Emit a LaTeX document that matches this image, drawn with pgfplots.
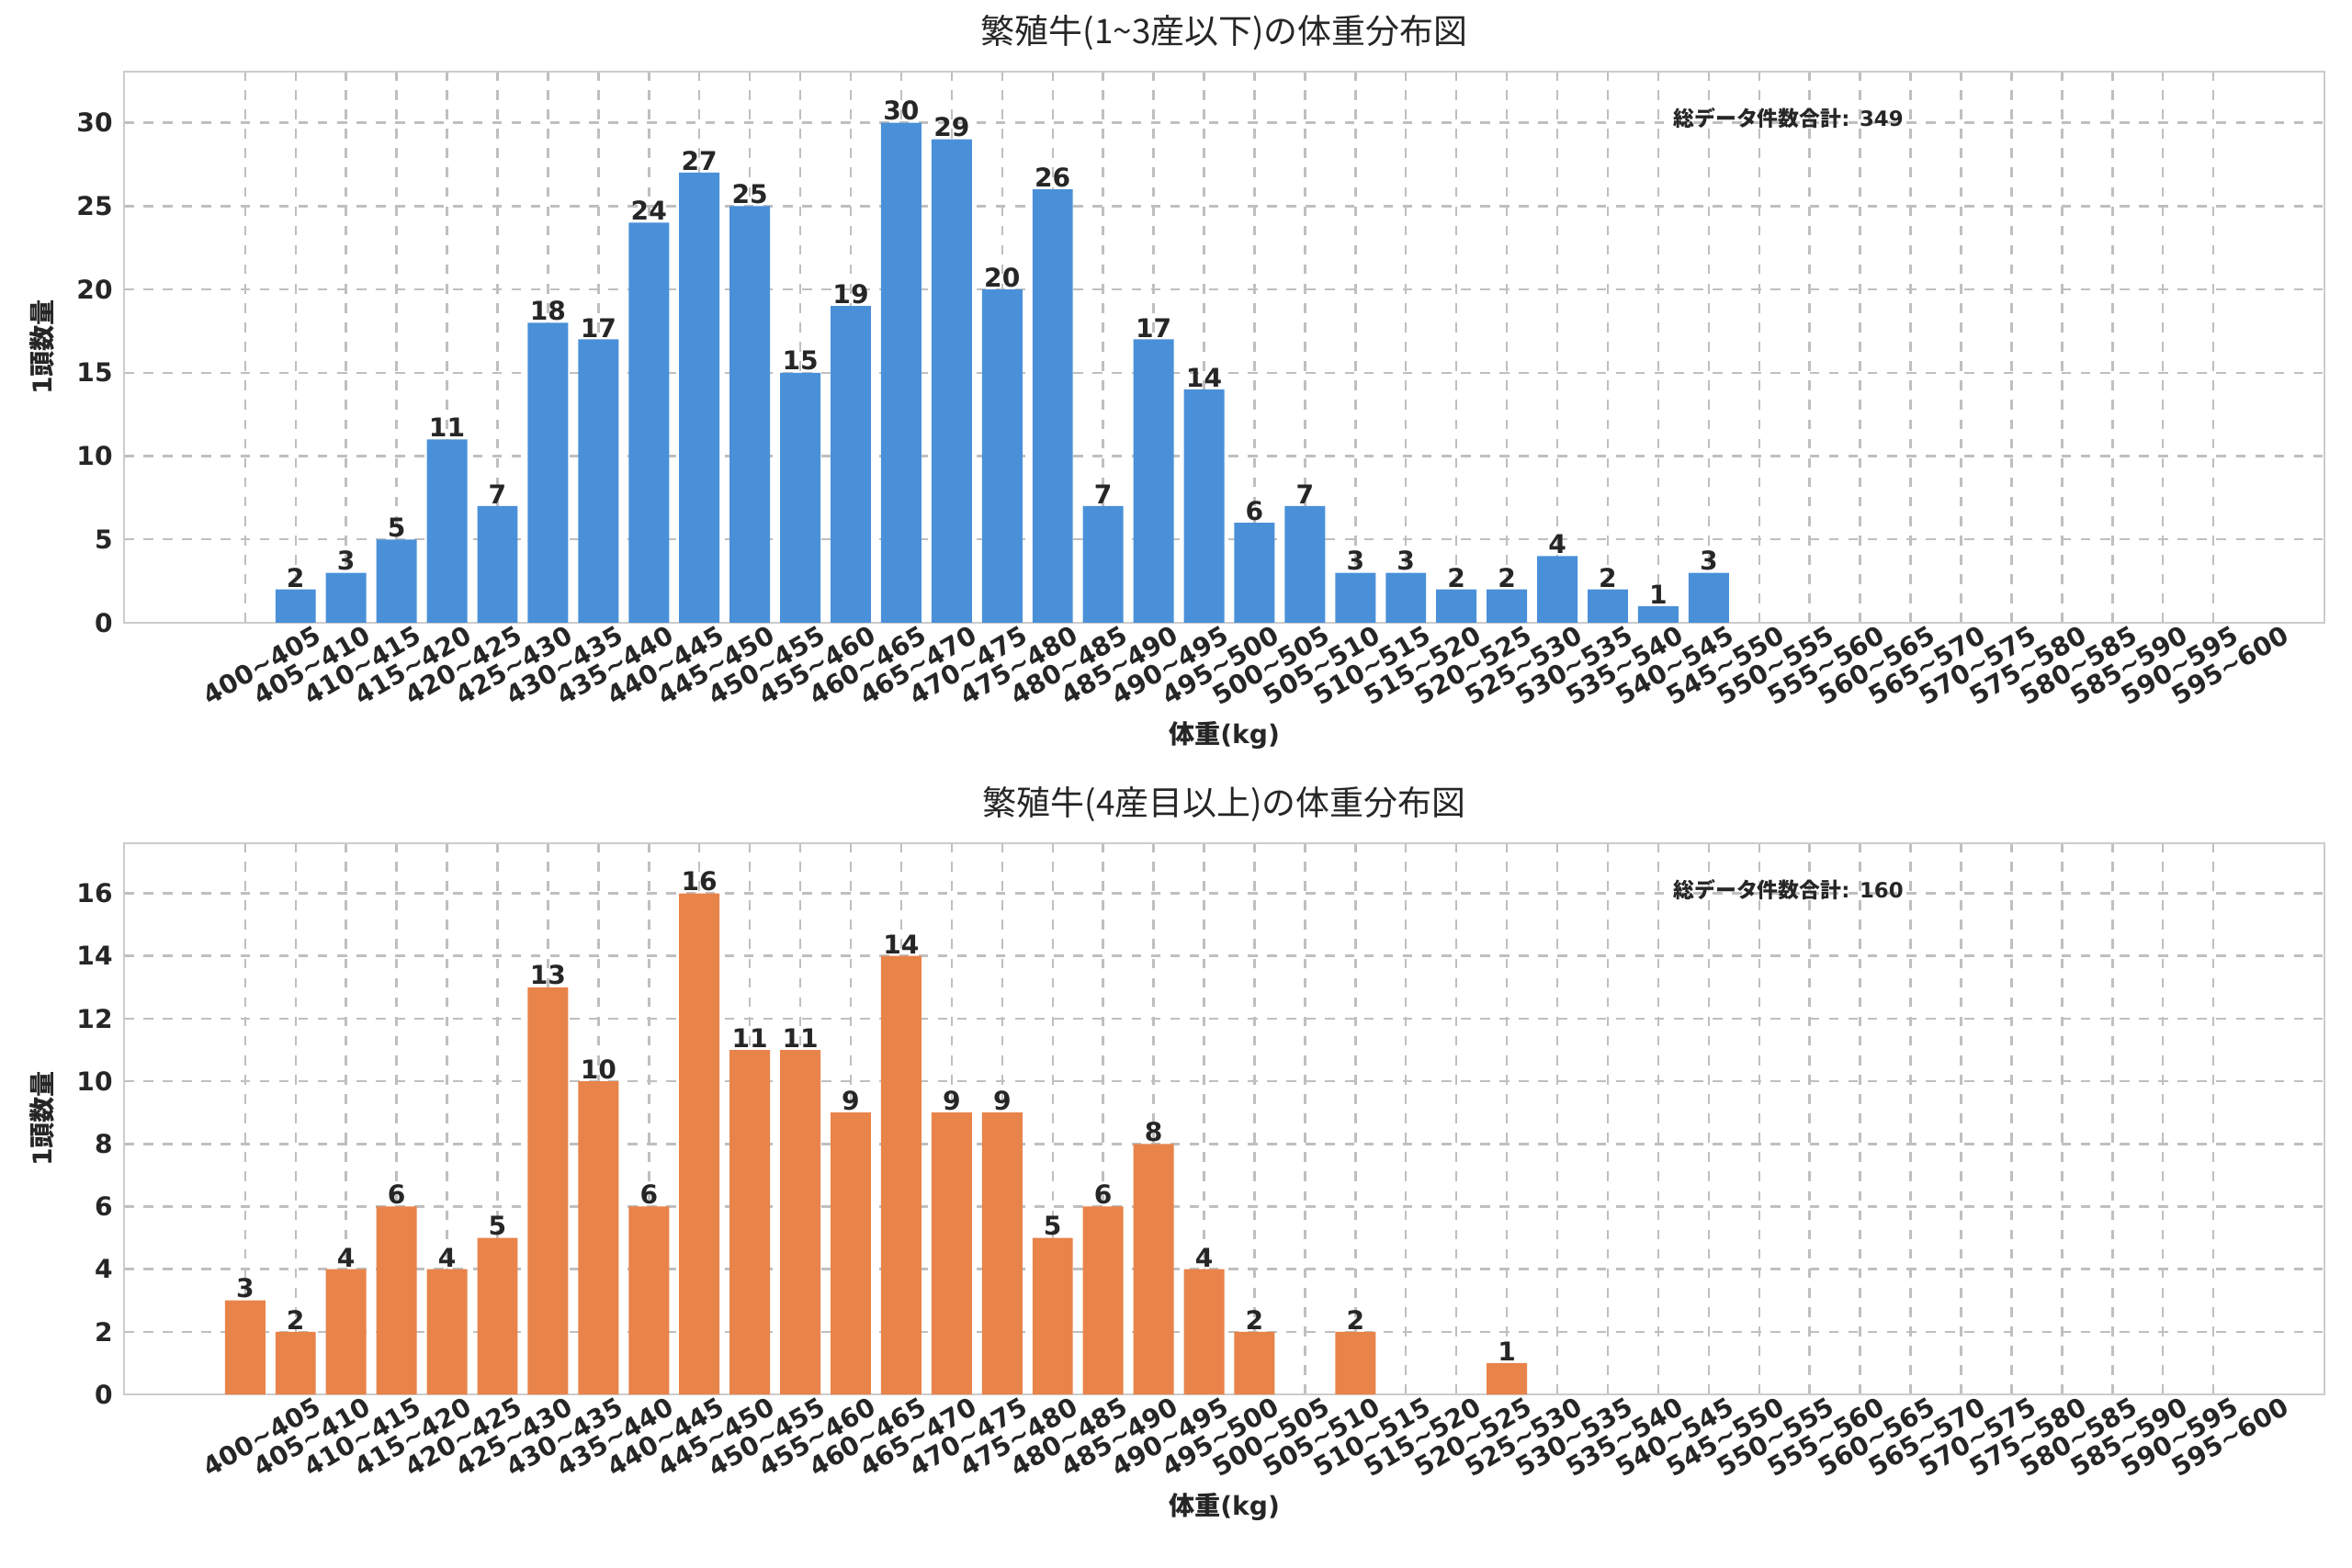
\documentclass[border=0pt]{standalone}
\usepackage{pgfplots}
\pgfplotsset{compat=1.18}
\usepackage{fontspec}
\setmainfont{DejaVu Sans}
\newfontfamily\cjk{Noto Sans CJK JP}
\newcommand\rg[2]{#1\char`\~#2}
\definecolor{cblue}{HTML}{4A90D9}
\definecolor{corange}{HTML}{E8834A}
\definecolor{txt}{HTML}{262626}
\pgfplotsset{
  hist/.style={
    scale only axis, width=23.95cm, height=6cm,
    xmin=-2.4, xmax=41.2, ymin=0,
    axis line style={draw=black!20, line width=0.8pt},
    tick style={draw=none},
    grid=both, grid style={dashed, draw=black!25, line width=0.7pt},
    xtick={0,...,39},
    xticklabels={\rg{400}{405},\rg{405}{410},\rg{410}{415},\rg{415}{420},\rg{420}{425},\rg{425}{430},\rg{430}{435},\rg{435}{440},\rg{440}{445},\rg{445}{450},\rg{450}{455},\rg{455}{460},\rg{460}{465},\rg{465}{470},\rg{470}{475},\rg{475}{480},\rg{480}{485},\rg{485}{490},\rg{490}{495},\rg{495}{500},\rg{500}{505},\rg{505}{510},\rg{510}{515},\rg{515}{520},\rg{520}{525},\rg{525}{530},\rg{530}{535},\rg{535}{540},\rg{540}{545},\rg{545}{550},\rg{550}{555},\rg{555}{560},\rg{560}{565},\rg{565}{570},\rg{570}{575},\rg{575}{580},\rg{580}{585},\rg{585}{590},\rg{590}{595},\rg{595}{600}},
    x tick label style={rotate=30, anchor=north, yshift=-6pt, font=\fontsize{8}{9}\selectfont\bfseries, text=txt, inner sep=1pt},
    y tick label style={font=\fontsize{8}{9}\selectfont\bfseries, text=txt},
    /pgf/number format/assume math mode=true,
    xlabel={\cjk\bfseries 体重\normalfont\bfseries(kg)},
    ylabel={\bfseries 1\cjk 頭数量},
    label style={font=\fontsize{8}{9}\selectfont, text=txt},
    title style={font=\fontsize{10.5}{12}\selectfont, text=txt, yshift=-3pt},
    ybar, bar width=0.8,
    nodes near coords,
    every node near coord/.append style={font=\fontsize{8}{9}\selectfont\bfseries, text=txt, inner sep=0.5pt},
  }
}
\begin{document}
\begin{tikzpicture}
\begin{axis}[hist, at={(0,0)}, anchor=north west, ymax=33.06, ytick={0,5,...,30},
  title={\cjk 繁殖牛(1\char`\~3産以下)の体重分布図}]
\addplot[fill=cblue, draw=none] coordinates {(1,2)(2,3)(3,5)(4,11)(5,7)(6,18)(7,17)(8,24)(9,27)(10,25)(11,15)(12,19)(13,30)(14,29)(15,20)(16,26)(17,7)(18,17)(19,14)(20,6)(21,7)(22,3)(23,3)(24,2)(25,2)(26,4)(27,2)(28,1)(29,3)};
\node[anchor=west, font=\fontsize{6.5}{8}\selectfont\bfseries, text=txt] at (rel axis cs:0.699,0.915) {{\cjk 総データ件数合計}: 349};
\end{axis}
\begin{axis}[hist, at={(0,-8.4cm)}, anchor=north west, ymax=17.6, ytick={0,2,...,16},
  title={\cjk 繁殖牛(4産目以上)の体重分布図}]
\addplot[fill=corange, draw=none] coordinates {(0,3)(1,2)(2,4)(3,6)(4,4)(5,5)(6,13)(7,10)(8,6)(9,16)(10,11)(11,11)(12,9)(13,14)(14,9)(15,9)(16,5)(17,6)(18,8)(19,4)(20,2)(22,2)(25,1)};
\node[anchor=west, font=\fontsize{6.5}{8}\selectfont\bfseries, text=txt] at (rel axis cs:0.699,0.915) {{\cjk 総データ件数合計}: 160};
\end{axis}
\pgfresetboundingbox
\path (-1.35cm,0.78cm) rectangle (24.25cm,-16.29cm);
\end{tikzpicture}
\end{document}
